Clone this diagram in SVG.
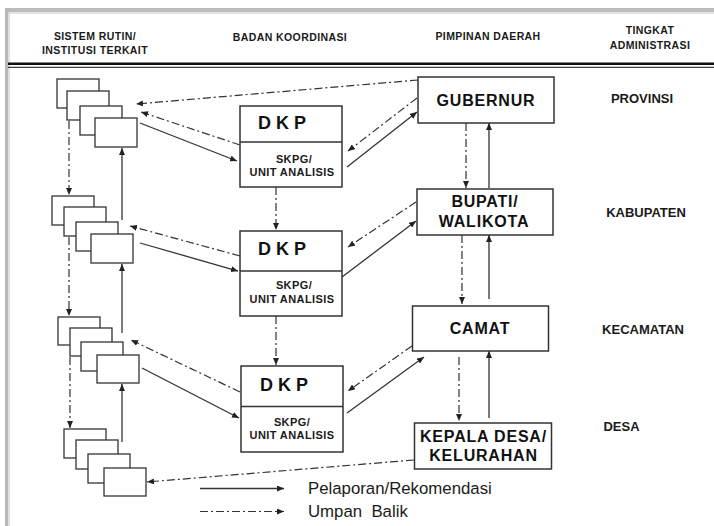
<svg xmlns="http://www.w3.org/2000/svg" width="714" height="526" viewBox="0 0 714 526">
<defs>
<marker id="ah" markerUnits="userSpaceOnUse" markerWidth="8" markerHeight="6" refX="7" refY="3" orient="auto">
<path d="M0,0 L7,3 L0,6 z" fill="#222"/>
</marker>
<style>
.hdr{font-family:"Liberation Sans",Arial,sans-serif;font-weight:bold;font-size:10.5px;letter-spacing:0.4px;fill:#1a1a1a;text-anchor:middle}
.lvl{font-family:"Liberation Sans",Arial,sans-serif;font-weight:bold;font-size:13px;fill:#1a1a1a;text-anchor:middle}
.big{font-family:"Liberation Sans",Arial,sans-serif;font-weight:bold;font-size:16px;letter-spacing:0.8px;fill:#111;text-anchor:middle}
.dkp{font-family:"Liberation Sans",Arial,sans-serif;font-weight:bold;font-size:18px;fill:#111;text-anchor:middle}
.sm{font-family:"Liberation Sans",Arial,sans-serif;font-weight:bold;font-size:11px;letter-spacing:0.4px;fill:#1a1a1a;text-anchor:middle}
.leg{font-family:"Liberation Sans",Arial,sans-serif;font-size:16.8px;fill:#1a1a1a}
.card{fill:#fff;stroke:#333;stroke-width:1.3}
.box{fill:#fff;stroke:#333;stroke-width:1.5}
.s{fill:none;stroke:#333;stroke-width:1.3;marker-end:url(#ah)}
.d{fill:none;stroke:#333;stroke-width:1.2;stroke-dasharray:8 3 2 3;marker-end:url(#ah)}
</style>
</defs>
<rect width="714" height="526" fill="#fff"/>
<!-- frame -->
<rect x="5" y="8" width="709" height="4" fill="#bcbcbc"/>
<rect x="8" y="12" width="706" height="2" fill="#e2e2e2"/>
<rect x="5" y="8" width="3.5" height="518" fill="#b8b8b8"/>
<rect x="8.5" y="12" width="1.5" height="514" fill="#e2e2e2"/>
<line x1="8" y1="63.8" x2="714" y2="63.8" stroke="#111" stroke-width="2.6"/>
<line x1="8" y1="67.3" x2="714" y2="67.3" stroke="#111" stroke-width="1"/>
<!-- header -->
<g id="header">
<text class="hdr" x="95" y="39.5">SISTEM RUTIN/</text>
<text class="hdr" x="95" y="54">INSTITUSI TERKAIT</text>
<text class="hdr" x="290" y="41">BADAN KOORDINASI</text>
<text class="hdr" x="488" y="40">PIMPINAN DAERAH</text>
<text class="hdr" x="650" y="33.5">TINGKAT</text>
<text class="hdr" x="650" y="48.5">ADMINISTRASI</text>
</g>
<g id="levels">
<text class="lvl" x="642" y="103">PROVINSI</text>
<text class="lvl" x="646" y="217">KABUPATEN</text>
<text class="lvl" x="643" y="333.5">KECAMATAN</text>
<text class="lvl" x="621.5" y="431">DESA</text>
</g>
<!-- stacks -->
<g id="stack-provinsi">
<rect class="card" x="57" y="79" width="42" height="29"/>
<rect class="card" x="67" y="91" width="42" height="29"/>
<rect class="card" x="80" y="106" width="42" height="29"/>
<rect class="card" x="95" y="118" width="42" height="29"/>
</g>
<g id="stack-kabupaten">
<rect class="card" x="52" y="196" width="42" height="29"/>
<rect class="card" x="64" y="207" width="42" height="29"/>
<rect class="card" x="76" y="222" width="42" height="29"/>
<rect class="card" x="91" y="234" width="42" height="29"/>
</g>
<g id="stack-kecamatan">
<rect class="card" x="58" y="317" width="42" height="28"/>
<rect class="card" x="70" y="328" width="42" height="28"/>
<rect class="card" x="81" y="342" width="42" height="29"/>
<rect class="card" x="97" y="355" width="42" height="28"/>
</g>
<g id="stack-desa">
<rect class="card" x="64" y="429" width="42" height="29"/>
<rect class="card" x="76" y="440" width="42" height="29"/>
<rect class="card" x="88" y="454" width="42" height="29"/>
<rect class="card" x="104" y="468" width="42" height="28"/>
</g>
<!-- DKP boxes -->
<g id="dkp-1">
<rect class="box" x="240" y="106" width="102" height="81"/>
<line x1="240" y1="142" x2="342" y2="142" stroke="#333" stroke-width="1.5"/>
<text class="dkp" x="282" y="129">D K P</text>
<text class="sm" x="294" y="162.5">SKPG/</text>
<text class="sm" x="292" y="176">UNIT ANALISIS</text>
</g>
<g id="dkp-2">
<rect class="box" x="240" y="231" width="102" height="85"/>
<line x1="240" y1="271" x2="342" y2="271" stroke="#333" stroke-width="1.5"/>
<text class="dkp" x="282" y="255">D K P</text>
<text class="sm" x="294" y="289">SKPG/</text>
<text class="sm" x="292" y="302.5">UNIT ANALISIS</text>
</g>
<g id="dkp-3">
<rect class="box" x="241" y="366" width="102" height="86"/>
<line x1="241" y1="406.5" x2="343" y2="406.5" stroke="#333" stroke-width="1.5"/>
<text class="dkp" x="284" y="390.5">D K P</text>
<text class="sm" x="292" y="425.5">SKPG/</text>
<text class="sm" x="292" y="438.5">UNIT ANALISIS</text>
</g>
<!-- leaders -->
<g id="gubernur">
<rect class="box" x="418" y="77" width="136" height="46"/>
<text class="big" x="486" y="106">GUBERNUR</text>
</g>
<g id="bupati">
<rect class="box" x="417" y="189" width="136" height="46"/>
<text class="big" x="485" y="207">BUPATI/</text>
<text class="big" x="484" y="227">WALIKOTA</text>
</g>
<g id="camat">
<rect class="box" x="412.5" y="306" width="136" height="45"/>
<text class="big" x="480" y="333.5">CAMAT</text>
</g>
<g id="kepala-desa">
<rect class="box" x="414.5" y="423" width="137" height="46"/>
<text class="big" x="483.5" y="441.5">KEPALA DESA/</text>
<text class="big" x="483.5" y="460.5">KELURAHAN</text>
</g>
<!-- connectors -->
<g id="connectors">
<line class="d" x1="69" y1="121" x2="69" y2="195"/>
<line class="d" x1="69" y1="237" x2="69" y2="316"/>
<line class="d" x1="70" y1="357" x2="70" y2="428"/>
<line class="s" x1="122" y1="220" x2="122" y2="148"/>
<line class="s" x1="122" y1="333" x2="122" y2="264"/>
<line class="s" x1="122" y1="442" x2="122" y2="384"/>
<line class="d" x1="276" y1="187" x2="276" y2="230"/>
<line class="d" x1="276" y1="316" x2="276" y2="365"/>
<line class="d" x1="466" y1="123" x2="466" y2="188"/>
<line class="s" x1="489" y1="188" x2="489" y2="123"/>
<line class="d" x1="462" y1="235" x2="462" y2="304"/>
<line class="s" x1="489" y1="299" x2="489" y2="235"/>
<line class="d" x1="459" y1="357" x2="459" y2="421"/>
<line class="s" x1="489" y1="418" x2="489" y2="351"/>
<line class="d" x1="418" y1="80" x2="136" y2="104"/>
<line class="d" x1="240" y1="145" x2="141" y2="112"/>
<line class="s" x1="140" y1="123" x2="237" y2="161"/>
<line class="s" x1="347" y1="167" x2="417" y2="112"/>
<line class="d" x1="417" y1="98" x2="348" y2="151"/>
<line class="d" x1="240" y1="256" x2="130" y2="226"/>
<line class="s" x1="140" y1="243" x2="238" y2="271"/>
<line class="s" x1="342" y1="277" x2="416" y2="221"/>
<line class="d" x1="416" y1="202" x2="348" y2="247"/>
<line class="d" x1="240" y1="392" x2="131" y2="340"/>
<line class="s" x1="142" y1="368" x2="239" y2="418"/>
<line class="s" x1="347" y1="413" x2="424" y2="357"/>
<line class="d" x1="412" y1="346" x2="348" y2="391"/>
<line class="d" x1="414" y1="460" x2="147" y2="482"/>
</g>
<!-- legend -->
<g id="legend">
<line class="s" x1="200" y1="488.5" x2="284" y2="488.5"/>
<line class="d" x1="200" y1="511.5" x2="284" y2="511.5"/>
<text class="leg" x="308" y="494">Pelaporan/Rekomendasi</text>
<text class="leg" x="308" y="517" xml:space="preserve">Umpan  Balik</text>
</g>
</svg>
